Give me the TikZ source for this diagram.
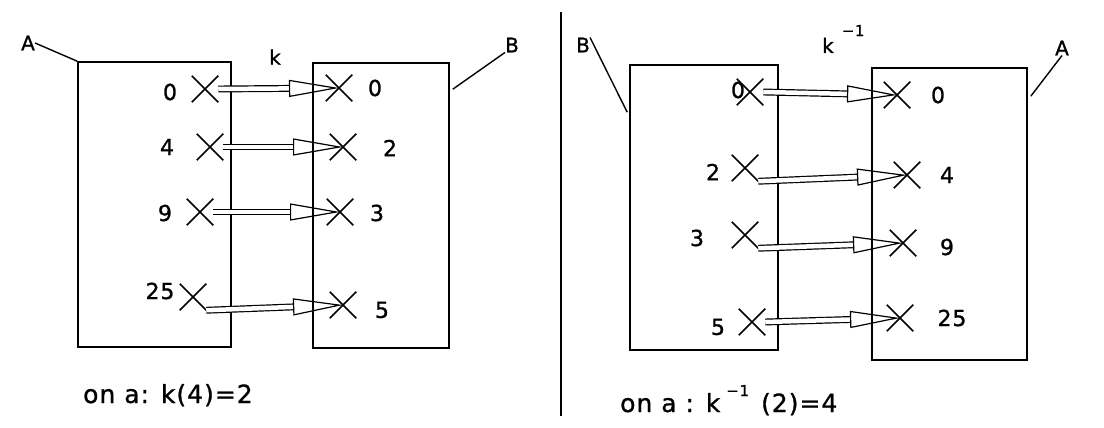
\documentclass[tikz,border=0pt]{standalone}
\usepackage{fontspec}
\usepackage{tikz}
\usetikzlibrary{arrows.meta,positioning,shapes.misc,calc}
\newfontfamily\lab[LetterSpace=4,FakeBold=1]{DejaVu Sans}

\begin{document}
\begin{tikzpicture}[x=1pt, y=-1pt,
        box/.style={draw, rectangle, line width=1.6pt, inner sep=0pt},
        xmark/.style={draw, cross out, line width=1.5pt, minimum size=25pt, inner sep=0pt},
        num/.style={font=\lab\fontsize{22}{26}\selectfont, inner sep=0pt},
        setname/.style={font=\lab\fontsize{20}{24}\selectfont, inner sep=0pt},
        note/.style={font=\lab\fontsize{25}{30}\selectfont, inner sep=0pt, anchor=base west},
        maparrow/.style={double, double distance=4.5pt, line width=1.2pt, -{Triangle[open, length=50pt, width=17pt]}}
    ]
    \useasboundingbox (0,0) rectangle (1104,428);

    % k : A -> B
    \node[box, minimum width=153pt, minimum height=285pt] (boxA) at (154.5,204.5) {};
    \node[box, minimum width=136pt, minimum height=285pt] (boxB) at (381,205.5) {};
    \node[setname] (labA) at (28,43) {A};
    \node[setname] (labB) at (512,45) {B};
    \node[setname] (labk) at (275,57) {k};
    \draw[line width=1.4pt] (labA.east) -- (boxA.north west);
    \draw[line width=1.4pt] (labB.south west) -- ($(boxB.north east)+(3,27)$);

    \node[xmark] (a0) at (205,89) {};
    \node[xmark] (a4) at (210,147) {};
    \node[xmark] (a9) at (200,212) {};
    \node[xmark] (a25) at (193,297) {};
    \node[num] (na0) at (170,92) {0};
    \node[num] (na4) at (167,147) {4};
    \node[num] (na9) at (165,213) {9};
    \node[num] (na25) at (160,291) {25};

    \node[xmark] (b0) at (339,88) {};
    \node[xmark] (b2) at (343,147) {};
    \node[xmark] (b3) at (340,212) {};
    \node[xmark] (b5) at (343,305) {};
    \node[num] (nb0) at (375,88) {0};
    \node[num] (nb2) at (390,148) {2};
    \node[num] (nb3) at (377,213) {3};
    \node[num] (nb5) at (382,310) {5};

    \draw[maparrow] (a0.east) -- (b0.center);
    \draw[maparrow] (a4.east) -- (b2.center);
    \draw[maparrow] (a9.east) -- (b3.center);
    \draw[maparrow] (a25.south east) -- (b5.center);

    \node[note] (noteL) at (83,403) {on a: k(4)=2};

    % separator
    \coordinate (sepT) at (561,12);
    \coordinate (sepB) at (561,416);
    \draw[line width=1.6pt] (sepT) -- (sepB);

    % k^{-1} : B -> A
    \node[box, minimum width=148pt, minimum height=285pt] (boxBi) at (704,207.5) {};
    \node[box, minimum width=155pt, minimum height=292pt] (boxAi) at (949.5,214) {};
    \node[setname] (labBi) at (583,45) {B};
    \node[setname] (labAi) at (1062,48) {A};
    \node[setname, anchor=base west] (labki) at (822,53) {k\hspace{8pt}\raisebox{17pt}{\fontsize{15}{17}\selectfont −1}};
    \draw[line width=1.4pt] (labBi.north east) -- ($(boxBi.north west)+(-2,48)$);
    \draw[line width=1.4pt] (labAi.south) -- ($(boxAi.north east)+(3,29)$);

    \node[xmark] (c0) at (750,92) {};
    \node[xmark] (c2) at (745,168) {};
    \node[xmark] (c3) at (745,235) {};
    \node[xmark] (c5) at (752,322) {};
    \node[num] (nc0) at (738,90) {0};
    \node[num] (nc2) at (713,172) {2};
    \node[num] (nc3) at (697,238) {3};
    \node[num] (nc5) at (718,327) {5};

    \node[xmark] (d0) at (897,95) {};
    \node[xmark] (d4) at (907,175) {};
    \node[xmark] (d9) at (903,243) {};
    \node[xmark] (d25) at (900,318) {};
    \node[num] (nd0) at (938,95) {0};
    \node[num] (nd4) at (947,175) {4};
    \node[num] (nd9) at (947,247) {9};
    \node[num] (nd25) at (952,318) {25};

    \draw[maparrow] (c0.east) -- (d0.center);
    \draw[maparrow] (c2.south east) -- (d4.center);
    \draw[maparrow] (c3.south east) -- (d9.center);
    \draw[maparrow] (c5.east) -- (d25.center);

    \node[note] (noteR) at (620,412) {on a : k\hspace{6pt}\raisebox{16pt}{\fontsize{15}{17}\selectfont −1}\hspace{12pt}(2)=4};
\end{tikzpicture}
\end{document}
